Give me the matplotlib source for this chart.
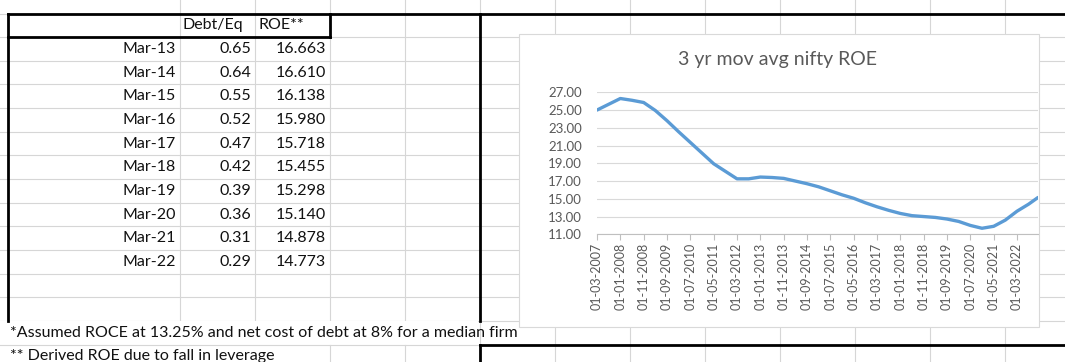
import numpy as np
import pandas as pd
import matplotlib
matplotlib.use("Agg")
import matplotlib.pyplot as plt
from matplotlib.patches import Rectangle

# table values
periods = ["Mar-13", "Mar-14", "Mar-15", "Mar-16", "Mar-17",
           "Mar-18", "Mar-19", "Mar-20", "Mar-21", "Mar-22"]
debt_eq = [0.65, 0.64, 0.55, 0.52, 0.47, 0.42, 0.39, 0.36, 0.31, 0.29]
roe_derived = [16.663, 16.610, 16.138, 15.980, 15.718,
               15.455, 15.298, 15.140, 14.878, 14.773]

# chart: 3 yr moving average nifty ROE
avg_months = ["2007-03", "2007-08", "2008-01", "2008-06", "2008-11", "2009-04",
              "2009-09", "2010-02", "2010-07", "2010-12", "2011-05", "2011-10",
              "2012-03", "2012-08", "2013-01", "2013-06", "2013-11", "2014-04",
              "2014-09", "2015-02", "2015-07", "2015-12", "2016-05", "2016-10",
              "2017-03", "2017-08", "2018-01", "2018-06", "2018-11", "2019-04",
              "2019-09", "2020-02", "2020-07", "2020-12", "2021-05", "2021-10",
              "2022-03", "2022-08", "2022-12"]
avg_roe = [25.0, 25.65, 26.3, 26.1, 25.85, 24.95,
           23.8, 22.55, 21.35, 20.15, 18.95, 18.1,
           17.25, 17.25, 17.45, 17.4, 17.3, 17.0,
           16.7, 16.35, 15.9, 15.45, 15.06, 14.55,
           14.1, 13.7, 13.35, 13.1, 13.0, 12.9,
           12.72, 12.45, 12.0, 11.68, 11.9, 12.6,
           13.6, 14.4, 15.15]
tick_labels = ["01-03-2007", "01-01-2008", "01-11-2008", "01-09-2009", "01-07-2010",
               "01-05-2011", "01-03-2012", "01-01-2013", "01-11-2013", "01-09-2014",
               "01-07-2015", "01-05-2016", "01-03-2017", "01-01-2018", "01-11-2018",
               "01-09-2019", "01-07-2020", "01-05-2021", "01-03-2022"]

FONT = "Lato"
W, H = 1065, 362
fig = plt.figure(figsize=(W / 100, H / 100), dpi=100)
sheet = fig.add_axes([0, 0, 1, 1])
sheet.set_xlim(0, W)
sheet.set_ylim(H, 0)
sheet.axis("off")

# spreadsheet grid
grid_c = "#d6d6d6"
row_y = [13.5 + 23.65 * k for k in range(16)]
col_x = [180, 255, 330, 405, 480, 555, 630, 705, 780, 855, 930, 1005]
for y in row_y:
    sheet.plot([0, W], [y, y], color=grid_c, lw=0.8, zorder=1)
for x in col_x:
    if x in (180, 255):
        sheet.plot([x, x], [0, row_y[13]], color=grid_c, lw=0.8, zorder=1)
    elif x in (330, 405):
        sheet.plot([x, x], [0, row_y[13]], color=grid_c, lw=0.8, zorder=1)
        sheet.plot([x, x], [row_y[14], H], color=grid_c, lw=0.8, zorder=1)
    else:
        sheet.plot([x, x], [0, H], color=grid_c, lw=0.8, zorder=1)
sheet.add_patch(Rectangle((0, row_y[13] + 0.5), 478, row_y[15] - row_y[13],
                          facecolor="white", edgecolor="none", zorder=1.5))
sheet.plot([0, W], [row_y[14], row_y[14]], color=grid_c, lw=0.8, zorder=1.6)
sheet.plot([330, 330], [row_y[14], H], color=grid_c, lw=0.8, zorder=1.6)
sheet.plot([405, 405], [row_y[14], H], color=grid_c, lw=0.8, zorder=1.6)

# thick borders
bk = dict(color="black", lw=2.0, zorder=3, solid_capstyle="projecting")
sheet.plot([8, W], [row_y[0], row_y[0]], **bk)
sheet.plot([8, 8], [row_y[0], row_y[13]], **bk)
sheet.plot([8, 330], [row_y[1], row_y[1]], **bk)
sheet.plot([330, 330], [row_y[0], row_y[1]], **bk)
sheet.plot([480, 480], [row_y[0], row_y[13]], **bk)
sheet.plot([480, W], [row_y[14], row_y[14]], **bk)
sheet.plot([480, 480], [row_y[14], H + 5], **bk)

# table text
txt = dict(fontsize=11.5, family=FONT, color="#111111", va="center", zorder=4)
hy = (row_y[0] + row_y[1]) / 2
sheet.text(183, hy, "Debt/Eq", ha="left", **txt)
sheet.text(258, hy, "ROE**", ha="left", **txt)
for i, p in enumerate(periods):
    cy = (row_y[i + 1] + row_y[i + 2]) / 2
    sheet.text(176, cy, p, ha="right", **txt)
    sheet.text(251, cy, f"{debt_eq[i]:.2f}", ha="right", **txt)
    sheet.text(326, cy, f"{roe_derived[i]:.3f}", ha="right", **txt)
sheet.text(10, (row_y[13] + row_y[14]) / 2,
           "*Assumed ROCE at 13.25% and net cost of debt at 8% for a median firm",
           ha="left", **txt)
sheet.text(10, (row_y[14] + row_y[15]) / 2,
           "** Derived ROE due to fall in leverage", ha="left", **txt)

# chart area
sheet.add_patch(Rectangle((519, 34), 520, 293, facecolor="white",
                          edgecolor="#d9d9d9", lw=0.8, zorder=5))
sheet.text(778, 60, "3 yr mov avg nifty ROE", ha="center", va="center",
           fontsize=14, family=FONT, color="#595959", zorder=6)

m = pd.PeriodIndex(avg_months, freq="M")
x = (m.year - 2007) * 12 + (m.month - 3)
tick_m = pd.PeriodIndex(pd.to_datetime(tick_labels, format="%d-%m-%Y"), freq="M")
tick_x = (tick_m.year - 2007) * 12 + (tick_m.month - 3)

ax = fig.add_axes([597 / W, 1 - 234.3 / H, (1038 - 597) / W, (234.3 - 92.3) / H])
ax.set_facecolor("none")
ax.plot(x, avg_roe, color="#5b9bd5", lw=2.4, solid_capstyle="round",
        solid_joinstyle="round")
ax.set_xlim(0, x[-1])
ax.set_ylim(11, 27)
yt = np.arange(11, 28, 2)
ax.set_yticks(yt)
ax.set_yticklabels([f"{v:.2f}" for v in yt], family=FONT)
ax.set_xticks(tick_x)
ax.set_xticklabels(tick_labels, rotation=90, family=FONT)
ax.grid(axis="y", color="#d9d9d9", lw=0.8)
ax.set_axisbelow(True)
for s in ("top", "right", "left"):
    ax.spines[s].set_visible(False)
ax.spines["bottom"].set_color("#bfbfbf")
ax.spines["bottom"].set_linewidth(0.8)
ax.tick_params(axis="y", length=0, pad=11, labelsize=9.5, labelcolor="#595959")
ax.tick_params(axis="x", length=4, width=0.8, color="#bfbfbf", pad=2,
               labelsize=9, labelcolor="#595959")

fig.savefig("out.png", dpi=100)
